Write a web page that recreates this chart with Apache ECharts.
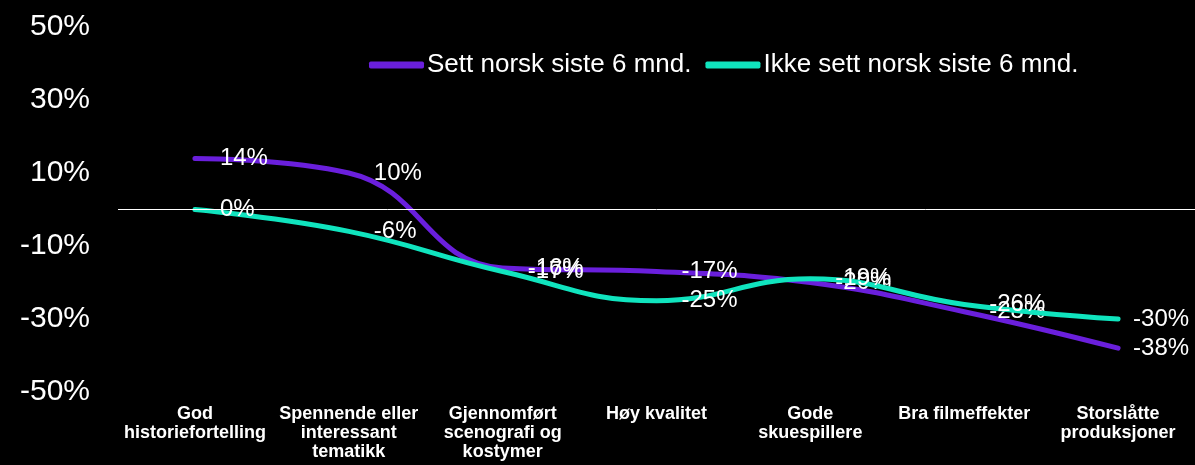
<!DOCTYPE html>
<html><head><meta charset="utf-8">
<script src="https://cdn.jsdelivr.net/npm/echarts@6/dist/echarts.min.js"></script>
<style>html,body{margin:0;padding:0;background:#000;}#c{width:1195px;height:465px;}</style>
</head><body><div id="c"></div>
<script>
const categories = ["God\nhistoriefortelling","Spennende eller\ninteressant\ntematikk","Gjennomført\nscenografi og\nkostymer","Høy kvalitet","Gode\nskuespillere","Bra filmeffekter","Storslåtte\nproduksjoner"];
const seriesNames = ["Sett norsk siste 6 mnd.","Ikke sett norsk siste 6 mnd."];
const seriesColors = ['#6A1FDC', '#10E4BE'];
const settNorsk = [14, 10, -16, -17, -20, -28, -38];
const ikkeSettNorsk = [0, -6, -17, -25, -19, -26, -30];
const yTicks = {min: -50, max: 50, interval: 20};

const chart = echarts.init(document.getElementById('c'));
const font = "'Liberation Sans', Arial, sans-serif";
function mk(name, data, color, z) {
  const items = data.map((v, i) => i === data.length - 1 ? {value: v, label: {distance: 14}} : v);
  return {
    name, type: 'line', data: items, smooth: 0.45, showSymbol: true, symbol: 'circle', symbolSize: 2,
    lineStyle: {color, width: 5, cap: 'round'},
    itemStyle: {color: 'rgba(0,0,0,0)', borderWidth: 0},
    label: {show: true, position: 'right', distance: 24, color: '#fff', opacity: 1, fontSize: 24, fontFamily: font,
      formatter: p => p.value + '%'},
    labelLayout: {hideOverlap: false},
    emphasis: {disabled: true},
    z
  };
}
const s1 = mk(seriesNames[0], settNorsk, seriesColors[0], 3);
const s2 = mk(seriesNames[1], ikkeSettNorsk, seriesColors[1], 4);
s1.markLine = {silent: true, symbol: 'none', label: {show: false}, lineStyle: {color: '#fff', width: 1, type: 'solid'}, data: [{yAxis: 0}]};
chart.setOption({
  backgroundColor: '#000',
  animation: false,
  grid: {left: 118, right: 0, top: 27, bottom: 73},
  legend: {
    left: 364, top: 47, itemWidth: 55, itemHeight: 7, itemGap: 14, icon: 'roundRect',
    textStyle: {color: '#fff', fontSize: 26, fontFamily: font, padding: [0, 0, 0, -2]},
    data: seriesNames.map((n, i) => ({name: n, itemStyle: {color: seriesColors[i], opacity: 1}}))
  },
  xAxis: {
    type: 'category', data: categories, boundaryGap: true,
    axisLine: {show: false}, axisTick: {show: false},
    axisLabel: {interval: 0, color: '#fff', fontWeight: 'bold', fontSize: 18, lineHeight: 19, fontFamily: font, margin: 13, align: 'center'}
  },
  yAxis: {
    type: 'value', min: yTicks.min, max: yTicks.max, interval: yTicks.interval,
    splitLine: {show: false}, axisLine: {show: false}, axisTick: {show: false},
    axisLabel: {color: '#fff', fontSize: 30, fontFamily: font, margin: 28, formatter: v => v + '%'}
  },
  series: [s1, s2]
});
</script></body></html>
